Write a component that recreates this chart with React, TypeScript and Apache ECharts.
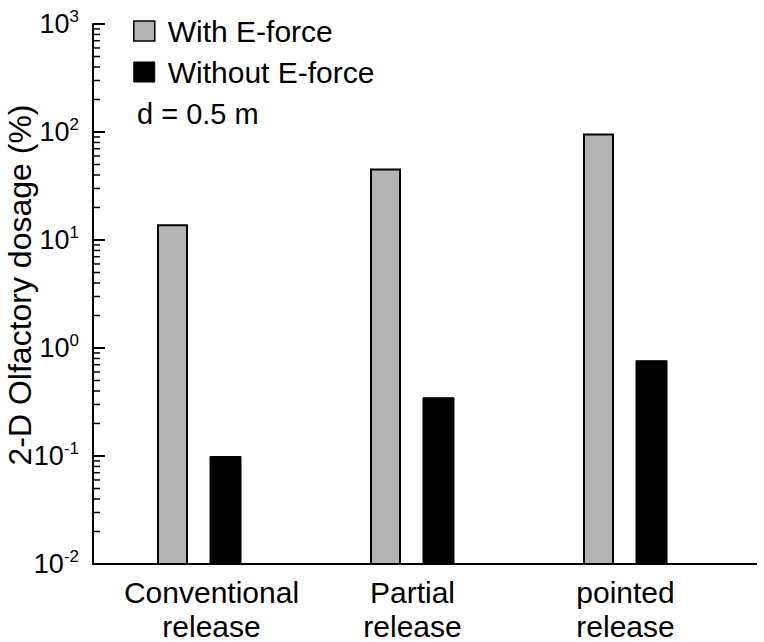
import React, { useEffect, useRef } from "react";
import * as echarts from "echarts";

const categories = ["Conventional\nrelease", "Partial\nrelease", "pointed\nrelease"];
const withEForce = [14, 46, 97];
const withoutEForce = [0.1, 0.35, 0.77];
const minorTickValues: number[] = [];
[0.01, 0.1, 1, 10, 100].forEach((d) => {
  for (let k = 2; k <= 9; k++) minorTickValues.push(d * k);
});
const axisMin = 0.01;
const axisMax = 1000;
const annotation = "d = 0.5 m";
const yTitle = "2-D Olfactory dosage (%)";

const FONT = "Liberation Sans, Arial, Helvetica, sans-serif";

function barRenderer(offset: number, width: number, fill: string, stroke: string, lw: number) {
  return (params: any, api: any) => {
    const top = api.coord([api.value(0), api.value(1)]);
    const base = api.coord([api.value(0), axisMin]);
    const inset = lw / 2;
    return {
      type: "rect",
      shape: {
        x: top[0] + offset - width / 2 + inset,
        y: top[1] + inset,
        width: width - lw,
        height: base[1] - top[1] - inset,
      },
      style: { fill, stroke, lineWidth: lw },
    };
  };
}

export default function App() {
  const ref = useRef<HTMLDivElement>(null);
  useEffect(() => {
    if (!ref.current) return;
    const chart = echarts.init(ref.current, null, { renderer: "svg" });
    chart.setOption({
      animation: false,
      backgroundColor: "#ffffff",
      textStyle: { fontFamily: FONT, color: "#000" },
      grid: { left: 93, right: 32, top: 24, bottom: 78, containLabel: false, outerBoundsMode: "none" },
      legend: {
        orient: "vertical",
        left: 133,
        top: 16,
        padding: 0,
        itemWidth: 21,
        itemHeight: 20,
        itemGap: 11,
        icon: "rect",
        data: [
          { name: "With E-force", itemStyle: { color: "#b3b3b3", borderColor: "#000", borderWidth: 1.5 } },
          { name: "Without E-force", itemStyle: { color: "#000", borderColor: "#000", borderWidth: 1 } },
        ],
        textStyle: { fontFamily: FONT, fontSize: 30, color: "#000", padding: [0, 0, 0, 8] },
      },
      xAxis: [
        {
          type: "category",
          data: [
            { value: categories[0], textStyle: { padding: [0, 0, 0, 24] } },
            categories[1],
            categories[2],
          ],
          axisLine: { show: true, lineStyle: { color: "#000", width: 2 } },
          axisTick: { show: false },
          axisLabel: {
            fontFamily: FONT,
            fontSize: 30,
            lineHeight: 34,
            color: "#000",
            margin: 11,
            interval: 0,
          },
        },
        { type: "value", min: 0, max: 1, show: false },
      ],
      yAxis: {
        type: "log",
        logBase: 10,
        min: axisMin,
        max: axisMax,
        axisLine: { show: true, lineStyle: { color: "#000", width: 2 } },
        axisTick: { show: true, inside: true, length: 12, lineStyle: { color: "#000", width: 2 } },
        splitLine: { show: false },
        axisLabel: {
          margin: 14,
          color: "#000",
          formatter: (v: number) => "{b|10}{s|" + Math.round(Math.log10(v)) + "}",
          rich: {
            b: { fontFamily: FONT, fontSize: 27, color: "#000" },
            s: { fontFamily: FONT, fontSize: 17, color: "#000", padding: [0, 0, 15, 0] },
          },
        },
      },
      series: [
        {
          name: "With E-force",
          type: "custom",
          xAxisIndex: 0,
          yAxisIndex: 0,
          itemStyle: { color: "#b3b3b3" },
          data: withEForce.map((v, i) => [i, v]),
          renderItem: barRenderer(-27, 31, "#b3b3b3", "#000", 2),
        },
        {
          name: "Without E-force",
          type: "custom",
          xAxisIndex: 0,
          yAxisIndex: 0,
          itemStyle: { color: "#000" },
          data: withoutEForce.map((v, i) => [i, v]),
          renderItem: barRenderer(26, 32, "#000", "#000", 1),
        },
        {
          name: "minor",
          type: "custom",
          xAxisIndex: 1,
          yAxisIndex: 0,
          silent: true,
          data: minorTickValues.map((v) => [0, v]),
          renderItem: (params: any, api: any) => {
            const p = api.coord([0, api.value(1)]);
            return {
              type: "line",
              shape: { x1: p[0], y1: p[1], x2: p[0] + 7, y2: p[1] },
              style: { stroke: "#000", lineWidth: 1.5 },
            };
          },
        },
      ],
      graphic: [
        {
          type: "text",
          x: 20,
          y: 285,
          rotation: Math.PI / 2,
          style: {
            text: yTitle,
            fontFamily: FONT,
            fontSize: 32,
            fill: "#000",
            align: "center",
            verticalAlign: "middle",
          },
        },
        {
          type: "text",
          left: 137,
          top: 99,
          style: { text: annotation, fontFamily: FONT, fontSize: 29, fill: "#000" },
        },
        {
          type: "line",
          shape: { x1: 731, y1: 564, x2: 757, y2: 564 },
          style: { stroke: "#000", lineWidth: 2 },
        },
      ],
    });
    return () => chart.dispose();
  }, []);
  return <div ref={ref} style={{ width: 764, height: 642, position: "absolute", left: 0, top: 0 }} />;
}
